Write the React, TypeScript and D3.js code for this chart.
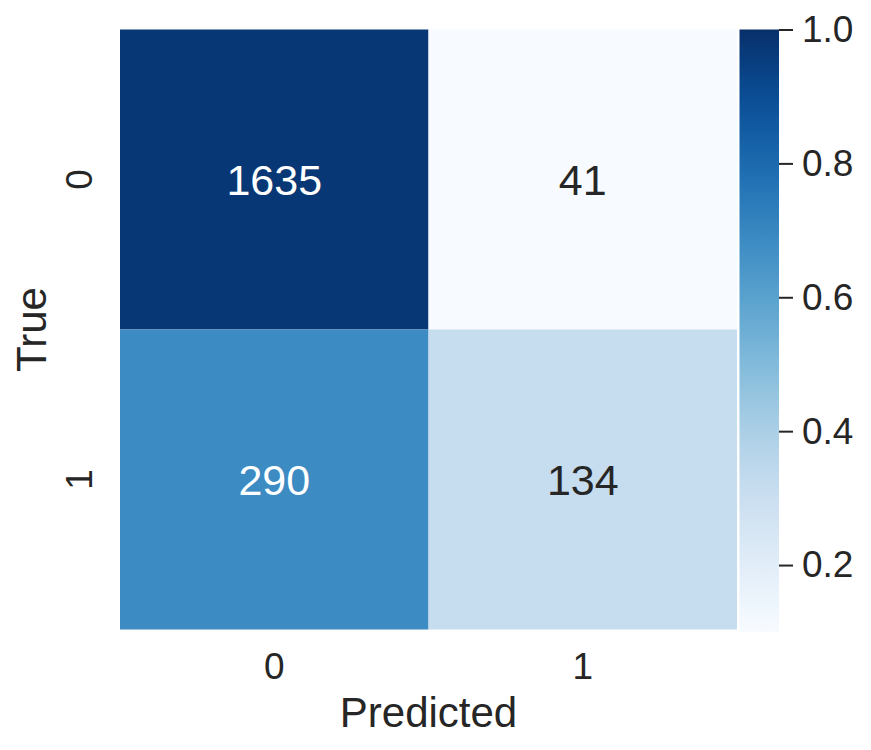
import { useEffect, useRef } from "react"
import * as d3 from "d3"

// labels for true / predicted classes
const classes = ["0", "1"]
// confusion matrix counts, rows = true, cols = predicted
const row0 = [1635, 41]
const row1 = [290, 134]
const colorbarTicks = [0.2, 0.4, 0.6, 0.8, 1.0]
const colorDomain = [0.1, 1.0]

const W = 871
const H = 750
const textColor = "#262626"
const font = "'Liberation Sans', Arial, Helvetica, sans-serif"

const App = () => {
  const svgRef = useRef<SVGSVGElement>(null)

  useEffect(() => {
    const svg = d3.select(svgRef.current)
    svg.selectAll("*").remove()

    const rows = [row0, row1]
    // row-normalised rate drives the colour, the count is printed
    const cells = rows.flatMap((r, i) => {
      const total = d3.sum(r)
      return r.map((c, j) => ({ t: classes[i], p: classes[j], count: c, rate: c / total }))
    })

    const x = d3.scaleBand().domain(classes).range([120, 737])
    const y = d3.scaleBand().domain(classes).range([29.5, 629.5])

    const norm = d3.scaleLinear().domain(colorDomain).range([0, 1]).clamp(true)
    const color = (v: number) => d3.interpolateBlues(norm(v))

    //cells
    svg.append("g")
      .selectAll("rect")
      .data(cells)
      .join("rect")
      .attr("x", d => x(d.p)!)
      .attr("y", d => y(d.t)!)
      .attr("width", x.bandwidth())
      .attr("height", y.bandwidth())
      .attr("fill", d => color(d.rate))

    //annotations, white text on dark cells
    svg.append("g")
      .selectAll("text")
      .data(cells)
      .join("text")
      .attr("x", d => x(d.p)! + x.bandwidth() / 2)
      .attr("y", d => y(d.t)! + y.bandwidth() / 2)
      .attr("dy", "0.36em")
      .attr("text-anchor", "middle")
      .attr("font-family", font)
      .attr("font-size", 43)
      .attr("fill", d => {
        const c = d3.hsl(color(d.rate))
        return c.l < 0.6 ? "#ffffff" : textColor
      })
      .text(d => d.count)

    //x tick labels
    svg.append("g")
      .selectAll("text")
      .data(classes)
      .join("text")
      .attr("x", d => x(d)! + x.bandwidth() / 2)
      .attr("y", 679)
      .attr("text-anchor", "middle")
      .attr("font-family", font)
      .attr("font-size", 37)
      .attr("fill", textColor)
      .text(d => d)

    //y tick labels (rotated)
    svg.append("g")
      .selectAll("text")
      .data(classes)
      .join("text")
      .attr("transform", d => `translate(92, ${y(d)! + y.bandwidth() / 2}) rotate(-90)`)
      .attr("text-anchor", "middle")
      .attr("font-family", font)
      .attr("font-size", 37)
      .attr("fill", textColor)
      .text(d => d)

    //axis titles
    svg.append("text")
      .attr("x", (120 + 737) / 2)
      .attr("y", 727)
      .attr("text-anchor", "middle")
      .attr("font-family", font)
      .attr("font-size", 42)
      .attr("fill", textColor)
      .text("Predicted")

    svg.append("text")
      .attr("transform", `translate(46, 329.5) rotate(-90)`)
      .attr("text-anchor", "middle")
      .attr("font-family", font)
      .attr("font-size", 42)
      .attr("fill", textColor)
      .text("True")

    //colorbar
    const cbX = 739.5
    const cbW = 39.5
    const cy = d3.scaleLinear().domain(colorDomain).range([632, 29.5])

    const grad = svg.append("defs")
      .append("linearGradient")
      .attr("id", "cbgrad")
      .attr("x1", 0).attr("y1", 1).attr("x2", 0).attr("y2", 0)
    d3.range(0, 1.0001, 0.05).forEach(t => {
      grad.append("stop")
        .attr("offset", t)
        .attr("stop-color", d3.interpolateBlues(t))
    })

    svg.append("rect")
      .attr("x", cbX)
      .attr("y", cy(colorDomain[1]))
      .attr("width", cbW)
      .attr("height", cy(colorDomain[0]) - cy(colorDomain[1]))
      .attr("fill", "url(#cbgrad)")

    const cbAxis = svg.append("g")
      .attr("transform", `translate(${cbX + cbW}, 0)`)
      .call(d3.axisRight(cy).tickValues(colorbarTicks).tickFormat(d3.format(".1f")).tickSize(14).tickPadding(9))
    cbAxis.select(".domain").remove()
    cbAxis.selectAll("line").attr("stroke", textColor).attr("stroke-width", 2)
    cbAxis.selectAll("text")
      .attr("font-family", font)
      .attr("font-size", 37)
      .attr("fill", textColor)
  }, [])

  return (
    <svg
      ref={svgRef}
      width={W}
      height={H}
      style={{ position: "absolute", left: 0, top: 0, background: "#ffffff" }}
    />
  )
}

export default App
